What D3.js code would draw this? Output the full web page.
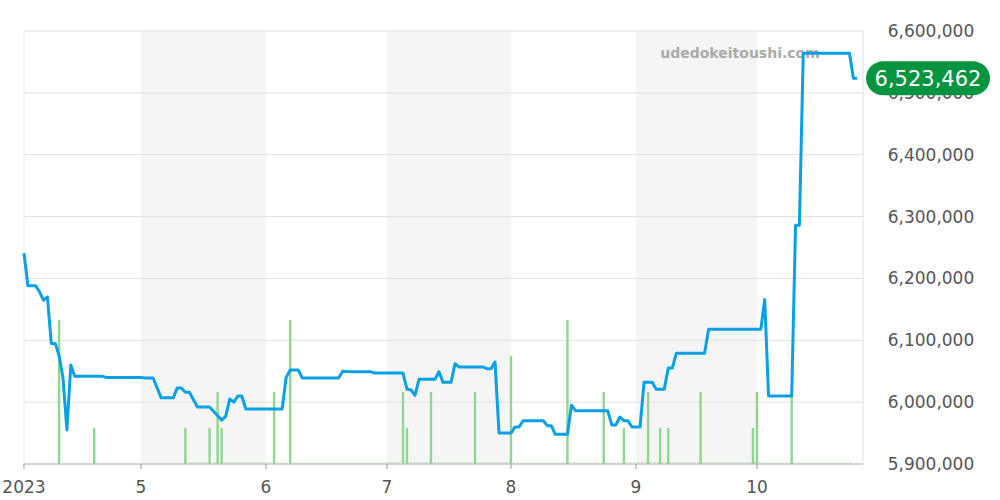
<!DOCTYPE html><html><head><meta charset="utf-8"><script src="https://cdn.jsdelivr.net/npm/d3@7"></script>
<style>body{margin:0;background:#fff}svg{font-family:"DejaVu Sans",sans-serif}</style></head><body><svg id="c" width="1000" height="500"></svg><script>
const priceDates=["04-01","04-02","04-04","04-05","04-06","04-07","04-08","04-09","04-10","04-11","04-12","04-13","04-14","04-21","04-22","05-01","05-02","05-04","05-06","05-09","05-10","05-11","05-12","05-13","05-15","05-18","05-21","05-22","05-23","05-24","05-25","05-26","05-27","06-05","06-06","06-07","06-09","06-10","06-19","06-20","06-22","06-27","06-28","07-05","07-06","07-07","07-08","07-09","07-13","07-14","07-15","07-17","07-18","07-19","07-25","07-26","07-27","07-28","07-29","08-01","08-02","08-03","08-04","08-09","08-10","08-11","08-12","08-15","08-16","08-17","08-25","08-26","08-27","08-28","08-29","08-30","08-31","09-02","09-03","09-05","09-06","09-08","09-09","09-10","09-11","09-18","09-19","10-02","10-03","10-04","10-10","10-11","10-12","10-13","10-25","10-26","10-27"];
const priceValues=[6241000,6188000,6188000,6178000,6165000,6170000,6095000,6095000,6075000,6039000,5955000,6060000,6042000,6042000,6040000,6040000,6039000,6039000,6007000,6007000,6023000,6023000,6016000,6016000,5992000,5992000,5971000,5977000,6005000,6000000,6010000,6010000,5989000,5989000,6040000,6052000,6052000,6039000,6039000,6050000,6049000,6049000,6047000,6047000,6021000,6020000,6011000,6037000,6037000,6049000,6032000,6032000,6062000,6057000,6057000,6054000,6054000,6065000,5950000,5950000,5960000,5960000,5970000,5970000,5962000,5962000,5948000,5948000,5995000,5986000,5986000,5963000,5963000,5976000,5970000,5970000,5960000,5960000,6032000,6032000,6021000,6021000,6055000,6055000,6079000,6079000,6118000,6118000,6166000,6010000,6010000,6286000,6286000,6564000,6564000,6523462,6523462];
const volDates=["04-10","04-19","05-12","05-18","05-20","05-21","06-03","06-07","07-05","07-06","07-12","07-23","08-01","08-15","08-24","08-29","09-04","09-07","09-09","09-17","09-30","10-01","10-10"];
const volValues=[4,1,1,1,2,1,2,4,2,1,2,2,3,4,2,1,2,1,1,2,1,2,2];
const yTicks=[5900000,6000000,6100000,6200000,6300000,6400000,6500000,6600000];
const monthTicks=["04-01","05-01","06-01","07-01","08-01","09-01","10-01"];
const monthLabels=["2023","5","6","7","8","9","10"];
const lastPrice=6523462;
const P=s=>new Date("2023-"+s+"T00:00:00");
const svg=d3.select("#c");
const L=24,R=863,T=31,B=464;
const x=d3.scaleTime().domain([...monthTicks.map(P),new Date("2023-10-28T12:00:00")]).range([L,141,266,387,511,636,757,R]);
const y=d3.scaleLinear().domain([5900000,6600000]).range([B,T]);
const yv=d3.scaleLinear().domain([0,4]).range([B,B-144]);
[["05-01","06-01"],["07-01","08-01"],["09-01","10-01"]].forEach(([a,b])=>svg.append("rect").attr("x",x(P(a))).attr("y",T).attr("width",x(P(b))-x(P(a))).attr("height",B-T).attr("fill","#f5f5f5"));
svg.selectAll(".g").data(yTicks).enter().append("line").attr("x1",L).attr("x2",R).attr("y1",d=>y(d)).attr("y2",d=>y(d)).attr("stroke","#e0e0e0");
svg.append("line").attr("x1",L).attr("x2",L).attr("y1",T).attr("y2",B).attr("stroke","#e8e8e8");
svg.append("line").attr("x1",R).attr("x2",R).attr("y1",T).attr("y2",B).attr("stroke","#e0e0e0");
svg.append("text").attr("x",740).attr("y",58).attr("text-anchor","middle").attr("font-size",14).attr("font-weight","bold").attr("fill","#aaa").text("udedokeitoushi.com");
svg.append("line").attr("x1",x(P("05-12"))).attr("x2",x(P("10-26"))).attr("y1",B-1).attr("y2",B-1).attr("stroke","#9fdc9f").attr("stroke-dasharray","2,2");
svg.selectAll(".v").data(volDates).enter().append("rect").attr("x",d=>x(P(d))-1.2).attr("width",2.4).attr("y",(d,i)=>yv(volValues[i])).attr("height",(d,i)=>B-yv(volValues[i])).attr("fill","#8fd68f");
const line=d3.line().x(d=>x(P(d[0]))).y(d=>y(d[1]));
svg.append("path").datum(priceDates.map((d,i)=>[d,priceValues[i]])).attr("d",line).attr("fill","none").attr("stroke","#0aa0e6").attr("stroke-width",3).attr("stroke-linejoin","round");
svg.append("line").attr("x1",L).attr("x2",R).attr("y1",B).attr("y2",B).attr("stroke","#bbb");
monthTicks.forEach((m,i)=>{const xx=x(P(m));svg.append("line").attr("x1",xx).attr("x2",xx).attr("y1",B).attr("y2",B+5).attr("stroke","#999");
svg.append("text").attr("x",xx).attr("y",B+29).attr("text-anchor","middle").attr("font-size",17).attr("fill","#555").text(monthLabels[i]);});
svg.selectAll(".yl").data(yTicks).enter().append("text").attr("x",R+68).attr("y",d=>y(d)+6).attr("text-anchor","middle").attr("font-size",17).attr("fill","#555").text(d=>d3.format(",")(d));
const by=y(lastPrice);
svg.append("rect").attr("x",866).attr("y",by-17).attr("width",124).attr("height",34).attr("rx",17).attr("fill","#079440");
svg.append("text").attr("x",928).attr("y",by+8).attr("text-anchor","middle").attr("font-size",21).attr("fill","#fff").text(d3.format(",")(lastPrice));
</script></body></html>
